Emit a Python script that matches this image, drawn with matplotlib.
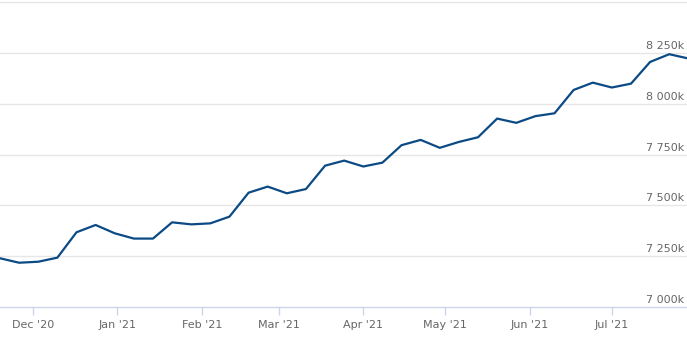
import numpy as np
import pandas as pd
import matplotlib
matplotlib.use("Agg")
import matplotlib.pyplot as plt
import matplotlib.dates as mdates
import matplotlib.transforms as mtransforms

# weekly series, thousands
start_date = "2020-11-19"
values = [
    7240, 7218, 7223, 7243, 7368, 7404, 7363, 7337, 7337, 7417,
    7407, 7412, 7445, 7563, 7593, 7560, 7581, 7696, 7721, 7692,
    7711, 7797, 7823, 7784, 7813, 7836, 7928, 7907, 7940, 7954,
    8069, 8105, 8081, 8100, 8207, 8245, 8224,
]
dates = pd.date_range(start_date, periods=len(values), freq="7D")

y_ticks = [7000, 7250, 7500, 7750, 8000, 8250, 8500]
y_labels = ["7 000k", "7 250k", "7 500k", "7 750k", "8 000k", "8 250k", ""]
month_ticks = pd.date_range("2020-12-01", "2021-07-01", freq="MS")
month_labels = ["Dec '20", "Jan '21", "Feb '21", "Mar '21", "Apr '21",
                "May '21", "Jun '21", "Jul '21"]

fig = plt.figure(figsize=(6.87, 3.38), dpi=100)
ax = fig.add_axes([0, 31 / 338, 1, 307 / 338])

# gridlines
for v in y_ticks[1:]:
    ax.axhline(v, color="#e6e6e6", linewidth=1.0, zorder=0)

ax.plot(dates, values, color="#0b4a85", linewidth=1.6, zorder=3,
        solid_joinstyle="round")

ax.set_xlim(pd.Timestamp("2020-11-19"), pd.Timestamp("2021-07-28 12:00"))
ax.set_ylim(7000, 8512)

for s in ["top", "right", "left"]:
    ax.spines[s].set_visible(False)
ax.spines["bottom"].set_color("#ccd6eb")
ax.spines["bottom"].set_linewidth(1.0)

ax.set_yticks([])
ax.set_xticks(month_ticks)
ax.set_xticklabels(month_labels)
ax.tick_params(axis="x", length=6, width=1, color="#ccd6eb",
               labelcolor="#666666", labelsize=8, pad=3)

# y labels inside plot, right aligned, above gridlines
trans = mtransforms.blended_transform_factory(ax.transAxes, ax.transData)
offset = mtransforms.offset_copy(trans, fig=fig, x=-3, y=2, units="dots")
for v, lab in zip(y_ticks, y_labels):
    if lab:
        ax.text(1.0, v, lab, transform=offset, ha="right", va="bottom",
                fontsize=8, color="#666666")

fig.savefig("out.png", dpi=100)
